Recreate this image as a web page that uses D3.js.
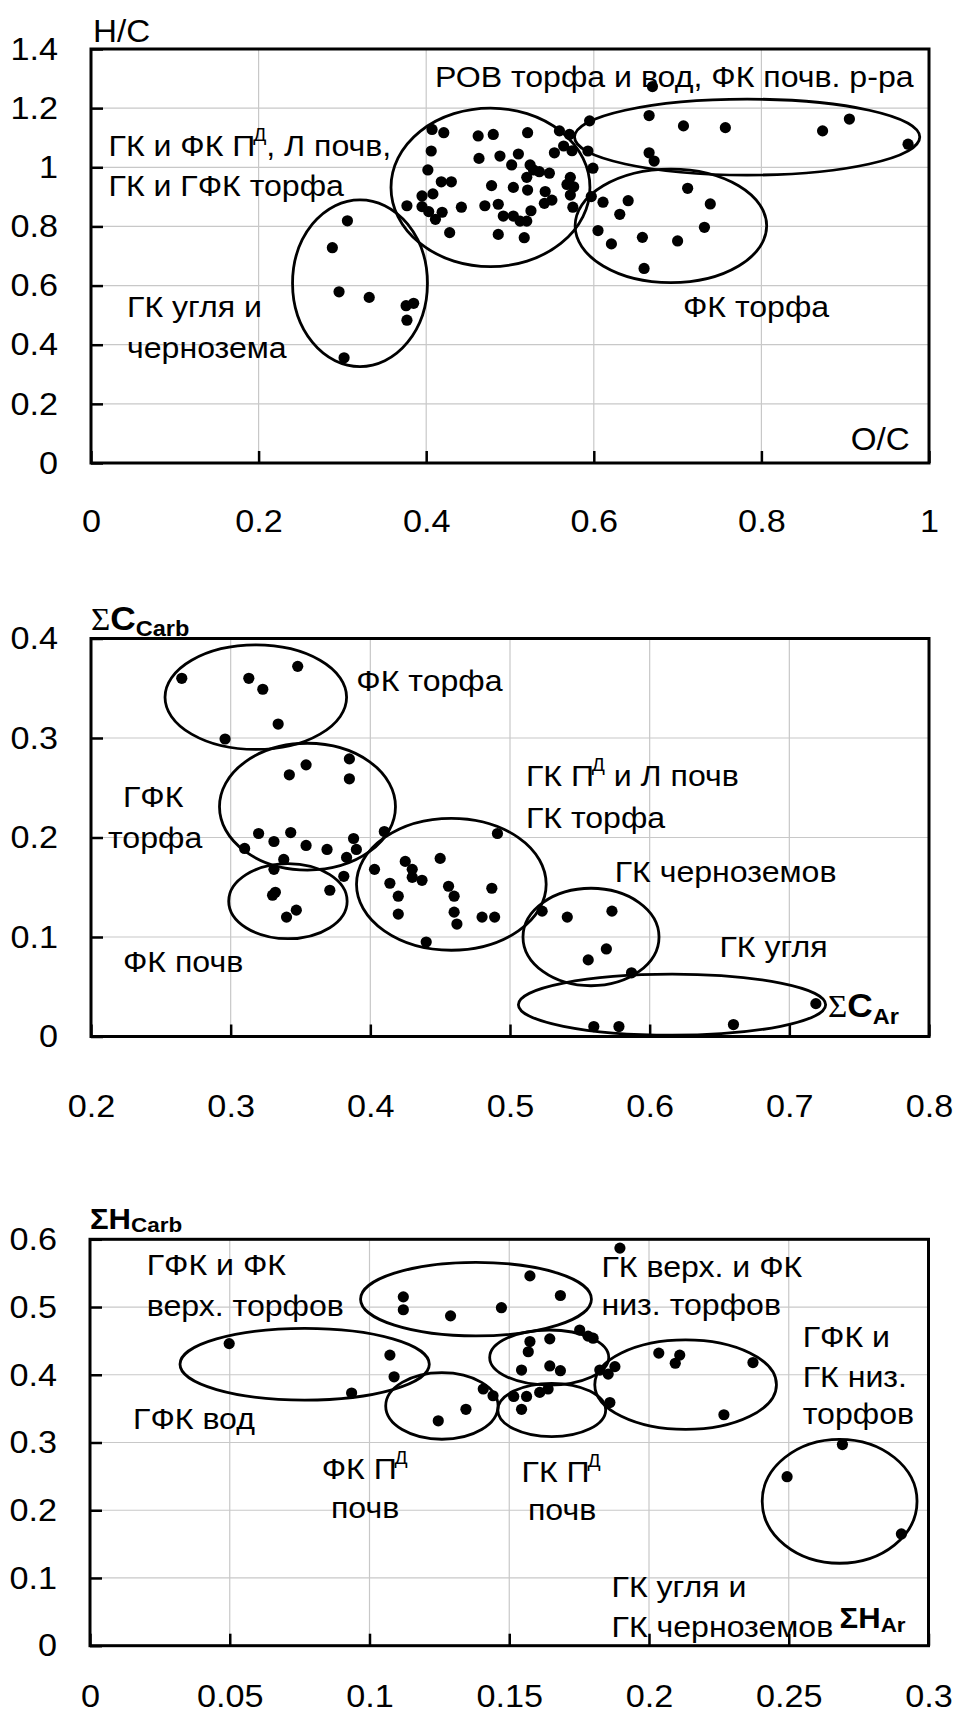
<!DOCTYPE html>
<html><head><meta charset="utf-8">
<script src="https://cdn.jsdelivr.net/npm/d3@7/dist/d3.min.js"></script>
<style>
body{margin:0;background:#fff}
text{font-family:"Liberation Sans",Arial,sans-serif;fill:#000}
</style>
</head><body>
<svg id="c" width="956" height="1716"></svg>
<script>
// ---------------- DATA ----------------
// Panel 1: H/C vs O/C
const p1XTicks = [0, 0.2, 0.4, 0.6, 0.8, 1];
const p1YTicks = [0, 0.2, 0.4, 0.6, 0.8, 1, 1.2, 1.4];
const p1Points = [
  [0.306,0.819],[0.288,0.728],[0.296,0.579],[0.332,0.560],[0.376,0.532],[0.385,0.540],[0.377,0.483],[0.302,0.356],
  [0.407,1.128],[0.421,1.117],[0.462,1.106],[0.480,1.111],[0.521,1.117],[0.559,1.123],[0.571,1.111],[0.595,1.157],
  [0.406,1.055],[0.463,1.030],[0.488,1.038],[0.510,1.045],[0.502,1.008],[0.553,1.049],[0.564,1.072],[0.574,1.056],[0.593,1.055],
  [0.402,0.991],[0.524,1.008],[0.528,0.991],[0.535,0.985],[0.547,0.980],[0.572,0.966],[0.599,0.997],
  [0.418,0.951],[0.430,0.951],[0.478,0.938],[0.504,0.932],[0.520,0.966],[0.521,0.923],[0.542,0.918],[0.568,0.942],[0.576,0.934],[0.572,0.906],
  [0.395,0.903],[0.408,0.910],[0.377,0.870],[0.395,0.867],[0.403,0.850],[0.419,0.848],[0.411,0.824],[0.442,0.865],[0.470,0.870],
  [0.486,0.875],[0.492,0.835],[0.504,0.835],[0.512,0.818],[0.520,0.818],[0.525,0.853],[0.541,0.878],[0.550,0.889],[0.575,0.865],[0.597,0.901],
  [0.428,0.779],[0.486,0.773],[0.517,0.762],
  [0.670,1.273],[0.666,1.175],[0.707,1.140],[0.757,1.134],[0.873,1.123],[0.905,1.163],[0.975,1.078],[0.666,1.049],[0.672,1.021],
  [0.611,0.882],[0.641,0.887],[0.631,0.841],[0.712,0.929],[0.739,0.876],[0.732,0.797],[0.605,0.786],[0.621,0.741],[0.658,0.763],[0.700,0.751],[0.660,0.658]
];
// ellipses: [cx, cy, rx, ry] in data units
const p1Ellipses = [
  [0.321,0.608,0.0805,0.282],
  [0.4767,0.932,0.1187,0.268],
  [0.783,1.102,0.206,0.1285],
  [0.692,0.802,0.1143,0.192]
];
const p1Labels = [
  {x:0.4105, y:1.2716, t:"РОВ торфа и вод, ФК почв. р-ра"},
  {x:0.0209, y:1.038,  t:"ГК и ФК П^Д, Л почв,"},
  {x:0.0209, y:0.904,  t:"ГК и ГФК торфа"},
  {x:0.043,  y:0.4937, t:"ГК угля и"},
  {x:0.043,  y:0.355,  t:"чернозема"},
  {x:0.7064, y:0.4948, t:"ФК торфа"}
];

// Panel 2: ΣC_Carb vs ΣC_Ar
const p2XTicks = [0.2, 0.3, 0.4, 0.5, 0.6, 0.7, 0.8];
const p2YTicks = [0, 0.1, 0.2, 0.3, 0.4];
const p2Points = [
  [0.265,0.360],[0.313,0.360],[0.323,0.349],[0.348,0.372],[0.334,0.314],[0.296,0.299],
  [0.354,0.273],[0.342,0.263],[0.385,0.279],[0.385,0.259],[0.320,0.204],[0.331,0.196],[0.343,0.205],[0.354,0.192],
  [0.369,0.188],[0.388,0.199],[0.390,0.188],[0.383,0.180],[0.310,0.189],[0.338,0.178],[0.410,0.206],
  [0.331,0.168],[0.332,0.145],[0.330,0.142],[0.371,0.147],[0.347,0.127],[0.340,0.120],[0.381,0.161],
  [0.403,0.168],[0.425,0.176],[0.430,0.168],[0.430,0.160],[0.437,0.157],[0.450,0.179],[0.414,0.154],[0.420,0.141],
  [0.420,0.123],[0.456,0.151],[0.460,0.141],[0.460,0.125],[0.462,0.113],[0.487,0.149],[0.480,0.120],[0.489,0.120],
  [0.440,0.095],[0.491,0.204],
  [0.523,0.126],[0.541,0.120],[0.573,0.126],[0.569,0.088],[0.556,0.077],[0.587,0.064],
  [0.560,0.010],[0.578,0.010],[0.660,0.012],[0.719,0.033]
];
const p2Ellipses = [
  [0.318,0.341,0.065,0.0525],
  [0.355,0.231,0.063,0.0637],
  [0.341,0.136,0.0424,0.0377],
  [0.458,0.153,0.0679,0.0663],
  [0.558,0.100,0.0487,0.049],
  [0.616,0.032,0.110,0.0307]
];
const p2Labels = [
  {x:0.390,  y:0.347,  t:"ФК торфа"},
  {x:0.2229, y:0.231,  t:"ГФК"},
  {x:0.2122, y:0.189,  t:"торфа"},
  {x:0.2229, y:0.0648, t:"ФК почв"},
  {x:0.5114, y:0.2518, t:"ГК П^Д и Л почв"},
  {x:0.5114, y:0.210,  t:"ГК торфа"},
  {x:0.575,  y:0.1556, t:"ГК черноземов"},
  {x:0.650,  y:0.0802, t:"ГК угля"}
];

// Panel 3: ΣH_Carb vs ΣH_Ar
const p3XTicks = [0, 0.05, 0.1, 0.15, 0.2, 0.25, 0.3];
const p3YTicks = [0, 0.1, 0.2, 0.3, 0.4, 0.5, 0.6];
const p3Points = [
  [0.0498,0.446],[0.1073,0.429],[0.1088,0.397],[0.0936,0.373],
  [0.1121,0.515],[0.1121,0.496],[0.1290,0.487],[0.1472,0.499],[0.1574,0.546],[0.1683,0.517],[0.1896,0.587],
  [0.1246,0.332],[0.1345,0.349],[0.1407,0.379],[0.1442,0.369],
  [0.1516,0.368],[0.1562,0.368],[0.1544,0.349],[0.1609,0.374],[0.1639,0.379],
  [0.1574,0.449],[0.1568,0.434],[0.1645,0.453],[0.1544,0.407],[0.1645,0.413],[0.1683,0.406],[0.1752,0.466],
  [0.1782,0.457],[0.180,0.454],[0.1824,0.407],[0.1854,0.401],[0.1878,0.412],[0.186,0.359],
  [0.2035,0.432],[0.2110,0.429],[0.2094,0.417],[0.2372,0.418],[0.2268,0.341],
  [0.2494,0.2495],[0.2692,0.297],[0.2903,0.165]
];
const p3Ellipses = [
  [0.0768,0.4156,0.0446,0.0529],
  [0.1381,0.5116,0.0413,0.0543],
  [0.1259,0.354,0.0201,0.0492],
  [0.1652,0.348,0.0193,0.0394],
  [0.1643,0.4255,0.0213,0.0406],
  [0.2131,0.3854,0.0325,0.066],
  [0.2682,0.2132,0.0277,0.0915]
];
const p3Labels = [
  {x:0.0203, y:0.5473, t:"ГФК и ФК"},
  {x:0.0203, y:0.4868, t:"верх. торфов"},
  {x:0.0154, y:0.3195, t:"ГФК вод"},
  {x:0.0829, y:0.2461, t:"ФК П^Д"},
  {x:0.0862, y:0.1878, t:"почв"},
  {x:0.1544, y:0.2421, t:"ГК П^Д"},
  {x:0.1567, y:0.1856, t:"почв"},
  {x:0.183,  y:0.5448, t:"ГК верх. и ФК"},
  {x:0.183,  y:0.4883, t:"низ. торфов"},
  {x:0.255,  y:0.4415, t:"ГФК и"},
  {x:0.255,  y:0.3824, t:"ГК низ."},
  {x:0.255,  y:0.3273, t:"торфов"},
  {x:0.1866, y:0.0723, t:"ГК угля и"},
  {x:0.1866, y:0.0133, t:"ГК черноземов"}
];

// ---------------- DRAW ----------------
const SX = 1.07;          // horizontal stretch of the original text
const FS_TICK = 32, FS_LAB = 30;
const svg = d3.select("#c");
const fmt = d => String(+d.toFixed(3));

function addText(g, px, py, parts, anchor) {
  const t = g.append("text")
    .attr("transform", `translate(${px},${py}) scale(${SX},1)`)
    .attr("text-anchor", anchor || "start");
  parts.forEach(p => {
    const s = t.append("tspan").text(p.t)
      .attr("font-size", p.size || FS_LAB)
      .attr("font-weight", p.bold ? "bold" : "normal");
    if (p.family) s.style("font-family", p.family);
    if (p.dy) s.attr("dy", p.dy);
    if (p.dx) s.attr("dx", p.dx);
  });
  return t;
}
function labelParts(str) {
  const i = str.indexOf("^Д");
  if (i < 0) return [{t: str}];
  const parts = [{t: str.slice(0, i)}, {t: "Д", size: 18, dy: -15, dx: -2}];
  const rest = str.slice(i + 2);
  if (rest) parts.push({t: rest, dy: 15});
  return parts;
}

function panel(cfg) {
  const x = d3.scaleLinear().domain(cfg.xDomain).range([cfg.left, cfg.right]);
  const y = d3.scaleLinear().domain(cfg.yDomain).range([cfg.bottom, cfg.top]);
  const g = svg.append("g");
  // grid
  g.selectAll(null).data(cfg.xTicks.slice(1, -1)).join("line")
    .attr("x1", d => x(d)).attr("x2", d => x(d)).attr("y1", cfg.top).attr("y2", cfg.bottom)
    .attr("stroke", "#c8c8c8").attr("stroke-width", 1.2);
  g.selectAll(null).data(cfg.yTicks.slice(1, -1)).join("line")
    .attr("y1", d => y(d)).attr("y2", d => y(d)).attr("x1", cfg.left).attr("x2", cfg.right)
    .attr("stroke", "#c8c8c8").attr("stroke-width", 1.2);
  // axes (inward ticks)
  const ax = g.append("g").attr("transform", `translate(0,${cfg.bottom})`)
    .call(d3.axisBottom(x).tickValues(cfg.xTicks).tickFormat(fmt).tickSize(-12).tickPadding(cfg.xPad));
  const ay = g.append("g").attr("transform", `translate(${cfg.left},0)`)
    .call(d3.axisLeft(y).tickValues(cfg.yTicks).tickFormat(fmt).tickSize(-12).tickPadding(0));
  [ax, ay].forEach(a => {
    a.select(".domain").remove();
    a.selectAll("line").attr("stroke", "#000").attr("stroke-width", 2.5);
    a.selectAll("text").attr("font-size", FS_TICK).attr("fill", "#000")
      .style("font-family", '"Liberation Sans",Arial,sans-serif');
  });
  ax.selectAll("text").attr("transform", `scale(${SX},1)`);
  ay.selectAll("text").attr("x", -33 / SX).attr("transform", `scale(${SX},1)`);
  // frame
  g.append("rect").attr("x", cfg.left).attr("y", cfg.top)
    .attr("width", cfg.right - cfg.left).attr("height", cfg.bottom - cfg.top)
    .attr("fill", "none").attr("stroke", "#000").attr("stroke-width", 3);
  // ellipses
  g.selectAll(null).data(cfg.ellipses).join("ellipse")
    .attr("cx", d => x(d[0])).attr("cy", d => y(d[1]))
    .attr("rx", d => x(d[0] + d[2]) - x(d[0])).attr("ry", d => y(d[1]) - y(d[1] + d[3]))
    .attr("fill", "none").attr("stroke", "#000").attr("stroke-width", 2.8);
  // points
  g.selectAll(null).data(cfg.points).join("circle")
    .attr("cx", d => x(d[0])).attr("cy", d => y(d[1])).attr("r", 5.6).attr("fill", "#000");
  // labels
  cfg.labels.forEach(l => addText(g, x(l.x), y(l.y), labelParts(l.t)));
  // axis titles
  cfg.titles.forEach(tt => addText(g, x(tt.x), y(tt.y), tt.parts, tt.anchor));
}

panel({
  xDomain:[0,1], yDomain:[0,1.4], left:91, right:929, top:49, bottom:463, xPad:46,
  xTicks:p1XTicks, yTicks:p1YTicks, points:p1Points, ellipses:p1Ellipses, labels:p1Labels,
  titles:[
    {x:0.0024, y:1.4237, parts:[{t:"H/C", size:31}]},
    {x:0.977, y:0.044, parts:[{t:"O/C", size:31}], anchor:"end"}
  ]
});
panel({
  xDomain:[0.2,0.8], yDomain:[0,0.4], left:91, right:929, top:638.5, bottom:1036.5, xPad:58,
  xTicks:p2XTicks, yTicks:p2YTicks, points:p2Points, ellipses:p2Ellipses, labels:p2Labels,
  titles:[
    {x:0.2, y:0.4085, parts:[{t:"Σ", size:31, family:'"Liberation Serif",serif'},{t:"C", size:33, bold:true},{t:"Carb", size:22, bold:true, dy:6}]},
    {x:0.7276, y:0.0199, parts:[{t:"Σ", size:31, family:'"Liberation Serif",serif'},{t:"C", size:33, bold:true},{t:"Ar", size:22, bold:true, dy:7}]}
  ]
});
panel({
  xDomain:[0,0.3], yDomain:[0,0.6], left:90, right:928.5, top:1239.3, bottom:1645.7, xPad:39,
  xTicks:p3XTicks, yTicks:p3YTicks, points:p3Points, ellipses:p3Ellipses, labels:p3Labels,
  titles:[
    {x:0, y:0.615, parts:[{t:"ΣH", size:29, bold:true},{t:"Carb", size:21, bold:true, dy:3}]},
    {x:0.2682, y:0.0261, parts:[{t:"ΣH", size:29, bold:true},{t:"Ar", size:21, bold:true, dy:4}]}
  ]
});
</script>
</body></html>
